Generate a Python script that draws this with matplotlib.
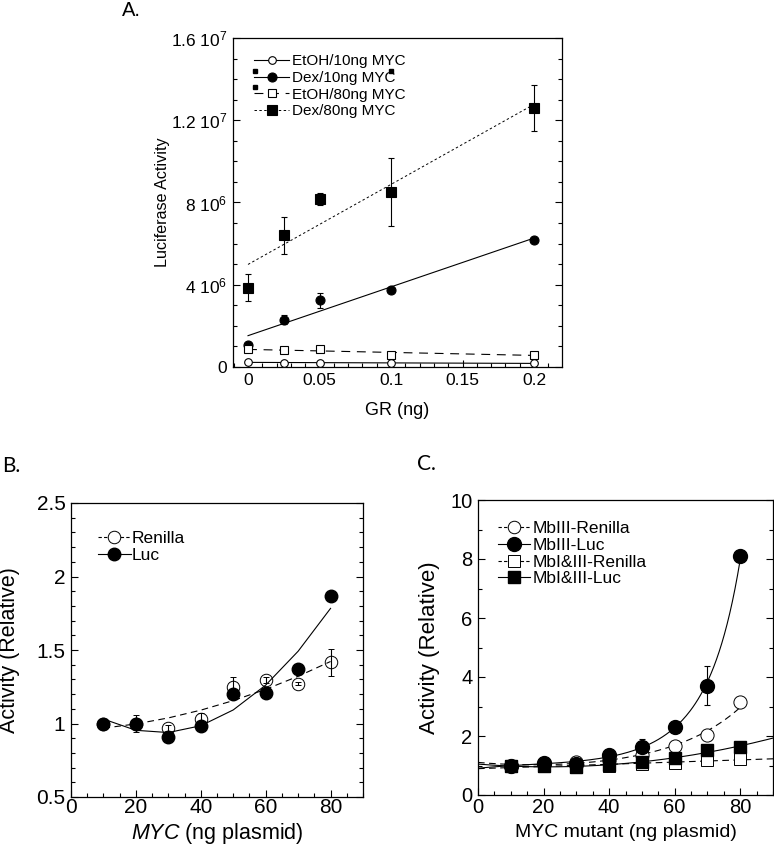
import numpy as np
import matplotlib
matplotlib.use("Agg")
import matplotlib.pyplot as plt
from matplotlib.lines import Line2D
from matplotlib.ticker import MultipleLocator, FixedLocator

plt.rcParams['font.family'] = ['Liberation Sans', 'DejaVu Sans']
plt.rcParams['mathtext.fontset'] = 'custom'
plt.rcParams['mathtext.rm'] = 'Liberation Sans'
plt.rcParams['mathtext.it'] = 'Liberation Sans:italic'

# ---------------- Panel A data ----------------
gr_ng = [0, 0.025, 0.05, 0.1, 0.2]
etoh10 = [2.5e5, 2.0e5, 2.0e5, 2.0e5, 1.8e5]
etoh10_err = [0.3e5, 0.3e5, 0.3e5, 0.3e5, 0.3e5]
dex10 = [1.05e6, 2.3e6, 3.24e6, 3.73e6, 6.2e6]
dex10_err = [0.1e6, 0.22e6, 0.35e6, 0.1e6, 0.05e6]
etoh80 = [0.86e6, 0.81e6, 0.86e6, 0.6e6, 0.6e6]
etoh80_err = [0.1e6, 0.08e6, 0.1e6, 0.08e6, 0.08e6]
dex80 = [3.86e6, 6.4e6, 8.18e6, 8.5e6, 12.6e6]
dex80_err = [0.65e6, 0.9e6, 0.3e6, 1.65e6, 1.1e6]
a_labels = ['EtOH/10ng MYC', 'Dex/10ng MYC', 'EtOH/80ng MYC', 'Dex/80ng MYC']
a_yticks = [0, 4e6, 8e6, 1.2e7, 1.6e7]
a_yticklabels = ['0', r'4 10$^{6}$', r'8 10$^{6}$', r'1.2 10$^{7}$', r'1.6 10$^{7}$']
a_xticks = [0, 0.05, 0.1, 0.15, 0.2]
a_xticklabels = ['0', '0.05', '0.1', '0.15', '0.2']

# ---------------- Panel B data ----------------
myc_ng = [10, 20, 30, 40, 50, 60, 70, 80]
renilla_b = [1.0, 1.0, 0.97, 1.03, 1.245, 1.295, 1.27, 1.415]
renilla_b_err = [0.0, 0.06, 0.02, 0.04, 0.07, 0.02, 0.01, 0.09]
luc_b = [1.0, 1.0, 0.905, 0.985, 1.2, 1.21, 1.37, 1.865]
luc_b_err = [0.0, 0.01, 0.01, 0.01, 0.02, 0.02, 0.01, 0.01]
b_labels = ['Renilla', 'Luc']

# ---------------- Panel C data ----------------
mut_ng = [10, 20, 30, 40, 50, 60, 70, 80]
mb3_ren = [1.0, 1.05, 1.12, 1.2, 1.35, 1.67, 2.03, 3.14]
mb3_ren_err = [0.0, 0.0, 0.0, 0.0, 0.0, 0.05, 0.12, 0.05]
mb3_luc = [0.99, 1.1, 1.05, 1.36, 1.64, 2.29, 3.71, 8.11]
mb3_luc_err = [0.0, 0.05, 0.05, 0.05, 0.25, 0.1, 0.65, 0.1]
mb13_ren = [1.0, 0.97, 0.95, 1.0, 1.05, 1.1, 1.2, 1.21]
mb13_luc = [0.98, 0.98, 0.94, 1.02, 1.12, 1.24, 1.53, 1.62]
c_labels = ['MbIII-Renilla', 'MbIII-Luc', 'MbI&III-Renilla', 'MbI&III-Luc']

W, H = 774, 851
fig = plt.figure(figsize=(W / 100, H / 100), dpi=100)


def axes_px(l, t, r, b):
    return fig.add_axes([l / W, 1 - b / H, (r - l) / W, (b - t) / H])


def style_axes(ax, labelsize):
    ax.tick_params(which='both', direction='in', top=False, right=True,
                   labelsize=labelsize, width=0.8, pad=4)
    ax.tick_params(which='major', length=5)
    ax.tick_params(which='minor', length=3)
    for s in ax.spines.values():
        s.set_linewidth(0.9)


# ======================= Panel A =======================
axA = axes_px(233, 38, 562, 367)
x = np.array(gr_ng)
xfit = np.array([0.0, 0.2])
eb = dict(ecolor='black', elinewidth=0.8, capsize=2, capthick=0.8, ls='none', zorder=3)

specs_a = [
    (etoh10, etoh10_err, 'o', 'white', 5.5, '-', 0.8),
    (dex10, dex10_err, 'o', 'black', 6.5, '-', 0.8),
    (etoh80, etoh80_err, 's', 'white', 5.5, (0, (8, 6)), 0.8),
    (dex80, dex80_err, 's', 'black', 6.5, (0, (2.5, 2.5)), 0.7),
]
handles_a = []
for (y, e, m, fc, ms, ls, lw), lab in zip(specs_a, a_labels):
    coef = np.polyfit(x, np.array(y), 1)
    axA.plot(xfit, np.polyval(coef, xfit), color='black', ls=ls, lw=lw, zorder=2)
    axA.errorbar(x, y, yerr=e, fmt=m, mfc=fc, mec='black', mew=0.8, ms=ms, **eb)
    handles_a.append(Line2D([], [], color='black', ls=ls, lw=lw, marker=m,
                            mfc=fc, mec='black', mew=0.8, ms=ms))

axA.set_xlim(-0.0105, 0.2195)
axA.set_ylim(0, 1.6e7)
axA.xaxis.set_major_locator(FixedLocator(a_xticks))
axA.set_xticklabels(a_xticklabels)
axA.xaxis.set_minor_locator(MultipleLocator(0.01))
axA.yaxis.set_major_locator(FixedLocator(a_yticks))
axA.set_yticklabels(a_yticklabels)
axA.yaxis.set_minor_locator(MultipleLocator(1e6))
style_axes(axA, 12.5)
axA.set_xlabel('GR (ng)', fontsize=13, va='top')
axA.xaxis.set_label_coords(0.5, -0.105)
axA.set_ylabel('Luciferase Activity', fontsize=11.6)
axA.yaxis.set_label_coords(-0.19, 0.5)
axA.legend(handles_a, a_labels, loc='upper left', bbox_to_anchor=(0.064, 0.95),
           frameon=False, fontsize=11, handlelength=2.3, handletextpad=0.2,
           labelspacing=0.17, borderpad=0, borderaxespad=0)
# stray square glyphs visible in the original legend area
axA.plot([0.067, 0.067, 0.48], [0.90, 0.851, 0.90], 's', color='black', ms=3.2,
         transform=axA.transAxes, clip_on=False)
fig.text(122 / W, 1 - 11 / H, 'A.', fontsize=14.5, ha='left', va='center')

# ======================= Panel B =======================
axB = axes_px(71, 503, 363, 797)
xb = np.array(myc_ng)
cr = np.polyfit(xb, np.array(renilla_b), 2)
cl = np.polyfit(xb, np.array(luc_b), 2)
axB.plot(xb, np.polyval(cr, xb), color='black', ls=(0, (6, 4)), lw=0.8, zorder=2)
axB.plot(xb, np.polyval(cl, xb), color='black', ls='-', lw=0.8, zorder=2)
axB.errorbar(xb, luc_b, yerr=luc_b_err, fmt='o', mfc='black', mec='black', ms=9, **eb)
axB.errorbar(xb, renilla_b, yerr=renilla_b_err, fmt='o', mfc='none', mec='black',
             mew=0.7, ms=9, **eb)
hb = [Line2D([], [], color='black', ls=(0, (3, 2)), lw=0.8, marker='o', mfc='white',
             mec='black', mew=0.7, ms=9),
      Line2D([], [], color='black', ls='-', lw=0.8, marker='o', mfc='black',
             mec='black', ms=9)]
axB.legend(hb, b_labels, loc='upper left', bbox_to_anchor=(0.092, 0.905),
           frameon=False, fontsize=12.5, handlelength=1.9, handletextpad=0.05,
           labelspacing=0.1, borderpad=0, borderaxespad=0)
axB.set_xlim(0, 90)
axB.set_ylim(0.5, 2.5)
axB.xaxis.set_major_locator(MultipleLocator(20))
axB.xaxis.set_minor_locator(MultipleLocator(5))
axB.yaxis.set_major_locator(MultipleLocator(0.5))
axB.yaxis.set_minor_locator(MultipleLocator(0.1))
axB.yaxis.set_major_formatter(matplotlib.ticker.FuncFormatter(lambda v, p: f'{v:g}'))
style_axes(axB, 15)
axB.tick_params(axis='x', pad=1)
axB.set_xlabel(r'$\mathit{MYC}$ (ng plasmid)', fontsize=15.5, va='top')
axB.xaxis.set_label_coords(0.5, -0.08)
axB.set_ylabel('Activity (Relative)', fontsize=15.5)
axB.yaxis.set_label_coords(-0.175, 0.5)
fig.text(2 / W, 1 - 466 / H, 'B.', fontsize=15, family=['Lato', 'DejaVu Sans'],
         ha='left', va='center')

# ======================= Panel C =======================
axC = axes_px(478, 500, 773, 795)
xc = np.array(mut_ng)
x80 = np.linspace(0, 80, 200)
x90 = np.linspace(0, 90, 200)
c3l = np.polyfit(xc, np.log(np.array(mb3_luc)), 3)
c3r = np.polyfit(xc, np.log(np.array(mb3_ren)), 2)
c13l = np.polyfit(xc, np.array(mb13_luc), 2)
c13r = np.polyfit(xc, np.array(mb13_ren), 1)
axC.plot(x80, np.exp(np.polyval(c3l, x80)), color='black', lw=0.8, zorder=2)
axC.plot(x80, np.exp(np.polyval(c3r, x80)), color='black', lw=0.8,
         ls=(0, (6, 4)), zorder=2)
axC.plot(x90, np.polyval(c13l, x90), color='black', lw=0.8, zorder=2)
axC.plot(x90, np.polyval(c13r, x90), color='black', lw=0.8, ls=(0, (6, 4)), zorder=2)
axC.errorbar(xc, mb3_ren, yerr=mb3_ren_err, fmt='o', mfc='white', mec='black',
             mew=0.7, ms=9.5, **eb)
axC.errorbar(xc, mb3_luc, yerr=mb3_luc_err, fmt='o', mfc='black', mec='black',
             ms=10, **eb)
axC.errorbar(xc, mb13_ren, fmt='s', mfc='white', mec='black', mew=0.7, ms=8.5, **eb)
axC.errorbar(xc, mb13_luc, fmt='s', mfc='black', mec='black', ms=8.5, **eb)
hc = [Line2D([], [], color='black', ls=(0, (3, 2)), lw=0.8, marker='o', mfc='white',
             mec='black', mew=0.7, ms=9),
      Line2D([], [], color='black', ls='-', lw=0.8, marker='o', mfc='black',
             mec='black', ms=10),
      Line2D([], [], color='black', ls=(0, (3, 2)), lw=0.8, marker='s', mfc='white',
             mec='black', mew=0.7, ms=8.5),
      Line2D([], [], color='black', ls='-', lw=0.8, marker='s', mfc='black',
             mec='black', ms=8.5)]
axC.legend(hc, c_labels, loc='upper left', bbox_to_anchor=(0.068, 0.93),
           frameon=False, fontsize=12.5, handlelength=1.85, handletextpad=0.15,
           labelspacing=0.1, borderpad=0, borderaxespad=0)
axC.set_xlim(0, 90)
axC.set_ylim(0, 10)
axC.xaxis.set_major_locator(MultipleLocator(20))
axC.xaxis.set_minor_locator(MultipleLocator(5))
axC.yaxis.set_major_locator(MultipleLocator(2))
axC.yaxis.set_minor_locator(MultipleLocator(1))
style_axes(axC, 14.5)
axC.tick_params(axis='x', pad=2)
axC.set_xlabel('MYC mutant (ng plasmid)', fontsize=14, va='top')
axC.xaxis.set_label_coords(0.5, -0.098)
axC.set_ylabel('Activity (Relative)', fontsize=16)
axC.yaxis.set_label_coords(-0.128, 0.5)
fig.text(417 / W, 1 - 464 / H, 'C.', fontsize=15, family=['Lato', 'DejaVu Sans'],
         ha='left', va='center')

fig.savefig('out.png', dpi=100)
